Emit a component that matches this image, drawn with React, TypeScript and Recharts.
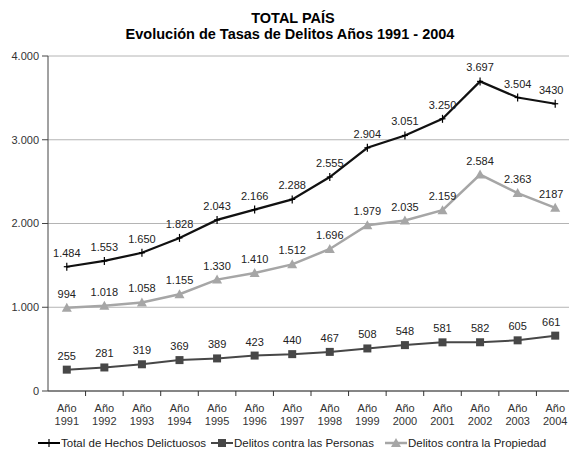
import React from "react";
import { LineChart, Line, XAxis, YAxis, CartesianGrid } from "recharts";

const years = [
  "1991", "1992", "1993", "1994", "1995", "1996", "1997",
  "1998", "1999", "2000", "2001", "2002", "2003", "2004",
];
const totalHechos = [
  1484, 1553, 1650, 1828, 2043, 2166, 2288, 2555, 2904, 3051, 3250, 3697, 3504, 3430,
];
const delitosPersonas = [
  255, 281, 319, 369, 389, 423, 440, 467, 508, 548, 581, 582, 605, 661,
];
const delitosPropiedad = [
  994, 1018, 1058, 1155, 1330, 1410, 1512, 1696, 1979, 2035, 2159, 2584, 2363, 2187,
];
const yTicks = [0, 1000, 2000, 3000, 4000];
// the source prints the 2004 labels without a thousands separator
const plainLabelYears = ["2004"];

const seriesNames = {
  total: "Total de Hechos Delictuosos",
  personas: "Delitos contra las Personas",
  propiedad: "Delitos contra la Propiedad",
};

const data = years.map((year, i) => ({
  year,
  total: totalHechos[i],
  personas: delitosPersonas[i],
  propiedad: delitosPropiedad[i],
}));

const FONT = "'Liberation Sans', Arial, Helvetica, sans-serif";
const CHART_W = 575;
const CHART_H = 451;
const MARGIN = { top: 56, right: 1, left: 0, bottom: 20 };
const Y_AXIS_W = 48;
const X_AXIS_H = 40;
const BAND = (CHART_W - MARGIN.left - MARGIN.right - Y_AXIS_W) / years.length;
const PLOT_BOTTOM = CHART_H - MARGIN.bottom - X_AXIS_H;

const fmt = (v: number) => String(v).replace(/\B(?=(\d{3})+(?!\d))/g, ".");

const makeLabel = (props: any) => {
  const { x, y, value, index } = props;
  const year = years[index];
  const text = plainLabelYears.includes(year) ? String(value) : fmt(value);
  const dx = index === years.length - 1 ? -4 : 0;
  return (
    <text
      key={`lbl-${index}`}
      x={x + dx}
      y={y - 10}
      textAnchor="middle"
      fontSize={11}
      fill="#222"
      fontFamily={FONT}
    >
      {text}
    </text>
  );
};

const CrossDot = (props: any) => {
  const { cx, cy, index } = props;
  return (
    <g key={`c-${index}`}>
      <line x1={cx} x2={cx} y1={cy - 4} y2={cy + 4} stroke="#000" strokeWidth={1.2} />
      <line x1={cx - 3} x2={cx + 3} y1={cy} y2={cy} stroke="#000" strokeWidth={1.2} />
    </g>
  );
};

const SquareDot = (props: any) => {
  const { cx, cy, index } = props;
  return <rect key={`s-${index}`} x={cx - 4} y={cy - 4} width={8} height={8} fill="#474747" />;
};

const TriangleDot = (props: any) => {
  const { cx, cy, index } = props;
  return (
    <path
      key={`t-${index}`}
      d={`M${cx},${cy - 5} L${cx + 5},${cy + 4} L${cx - 5},${cy + 4} Z`}
      fill="#a6a6a6"
    />
  );
};

const XTick = (props: any) => {
  const { x, y, payload } = props;
  return (
    <g>
      <line
        x1={x + BAND / 2}
        x2={x + BAND / 2}
        y1={PLOT_BOTTOM}
        y2={PLOT_BOTTOM + 5}
        stroke="#333"
      />
      <text x={x} y={y} textAnchor="middle" fontSize={11} fill="#333" fontFamily={FONT}>
        <tspan x={x} dy={16}>Año</tspan>
        <tspan x={x} dy={12.5}>{payload.value}</tspan>
      </text>
    </g>
  );
};

const LegendIcon = ({ x, kind }: { x: number; kind: string }) => {
  const cy = 443;
  const cx = x + 11;
  if (kind === "total") {
    return (
      <g>
        <line x1={x} x2={x + 22} y1={cy} y2={cy} stroke="#000" strokeWidth={2} />
        <line x1={cx} x2={cx} y1={cy - 4} y2={cy + 4} stroke="#000" strokeWidth={1.2} />
      </g>
    );
  }
  if (kind === "personas") {
    return (
      <g>
        <line x1={x} x2={x + 22} y1={cy} y2={cy} stroke="#474747" strokeWidth={2} />
        <rect x={cx - 4} y={cy - 4} width={8} height={8} fill="#474747" />
      </g>
    );
  }
  return (
    <g>
      <line x1={x} x2={x + 22} y1={cy} y2={cy} stroke="#a6a6a6" strokeWidth={2.5} />
      <path d={`M${cx},${cy - 5} L${cx + 5},${cy + 4} L${cx - 5},${cy + 4} Z`} fill="#a6a6a6" />
    </g>
  );
};

const Overlay = () => (
  <svg
    width={569}
    height={451}
    style={{ position: "absolute", left: 0, top: 0, pointerEvents: "none" }}
  >
    <text x={293} y={23} textAnchor="middle" fontSize={14.5} fontWeight="bold" fontFamily={FONT}>
      TOTAL PAÍS
    </text>
    <text x={290} y={39} textAnchor="middle" fontSize={14.5} fontWeight="bold" fontFamily={FONT}>
      Evolución de Tasas de Delitos Años 1991 - 2004
    </text>
    <LegendIcon x={38} kind="total" />
    <text x={61} y={447} fontSize={11.5} fill="#222" fontFamily={FONT}>
      {seriesNames.total}
    </text>
    <LegendIcon x={211} kind="personas" />
    <text x={234} y={447} fontSize={11.5} fill="#222" fontFamily={FONT}>
      {seriesNames.personas}
    </text>
    <LegendIcon x={385} kind="propiedad" />
    <text x={408} y={447} fontSize={11.5} fill="#222" fontFamily={FONT}>
      {seriesNames.propiedad}
    </text>
  </svg>
);

export default function App() {
  return (
    <div
      style={{
        position: "absolute",
        left: 0,
        top: 0,
        width: 569,
        height: 451,
        overflow: "hidden",
        background: "#fff",
        fontFamily: FONT,
      }}
    >
      <LineChart width={CHART_W} height={CHART_H} data={data} margin={MARGIN}>
        <CartesianGrid vertical={false} stroke="#b4b4b4" />
        <XAxis
          dataKey="year"
          height={X_AXIS_H}
          padding={{ left: BAND / 2, right: BAND / 2 }}
          tickLine={false}
          tickSize={5}
          tickMargin={0}
          axisLine={{ stroke: "#333" }}
          tick={<XTick />}
          interval={0}
        />
        <YAxis
          width={Y_AXIS_W}
          domain={[0, 4000]}
          ticks={yTicks}
          tickFormatter={fmt}
          tickSize={6}
          tickMargin={3}
          axisLine={{ stroke: "#444" }}
          tickLine={{ stroke: "#444" }}
          tick={{ fontSize: 11, fill: "#333", fontFamily: FONT }}
        />
        <Line
          dataKey="propiedad"
          name={seriesNames.propiedad}
          stroke="#a6a6a6"
          strokeWidth={2.5}
          dot={TriangleDot}
          label={makeLabel}
          isAnimationActive={false}
        />
        <Line
          dataKey="personas"
          name={seriesNames.personas}
          stroke="#474747"
          strokeWidth={2}
          dot={SquareDot}
          label={makeLabel}
          isAnimationActive={false}
        />
        <Line
          dataKey="total"
          name={seriesNames.total}
          stroke="#111"
          strokeWidth={2.2}
          dot={CrossDot}
          label={makeLabel}
          isAnimationActive={false}
        />
      </LineChart>
      <Overlay />
    </div>
  );
}
